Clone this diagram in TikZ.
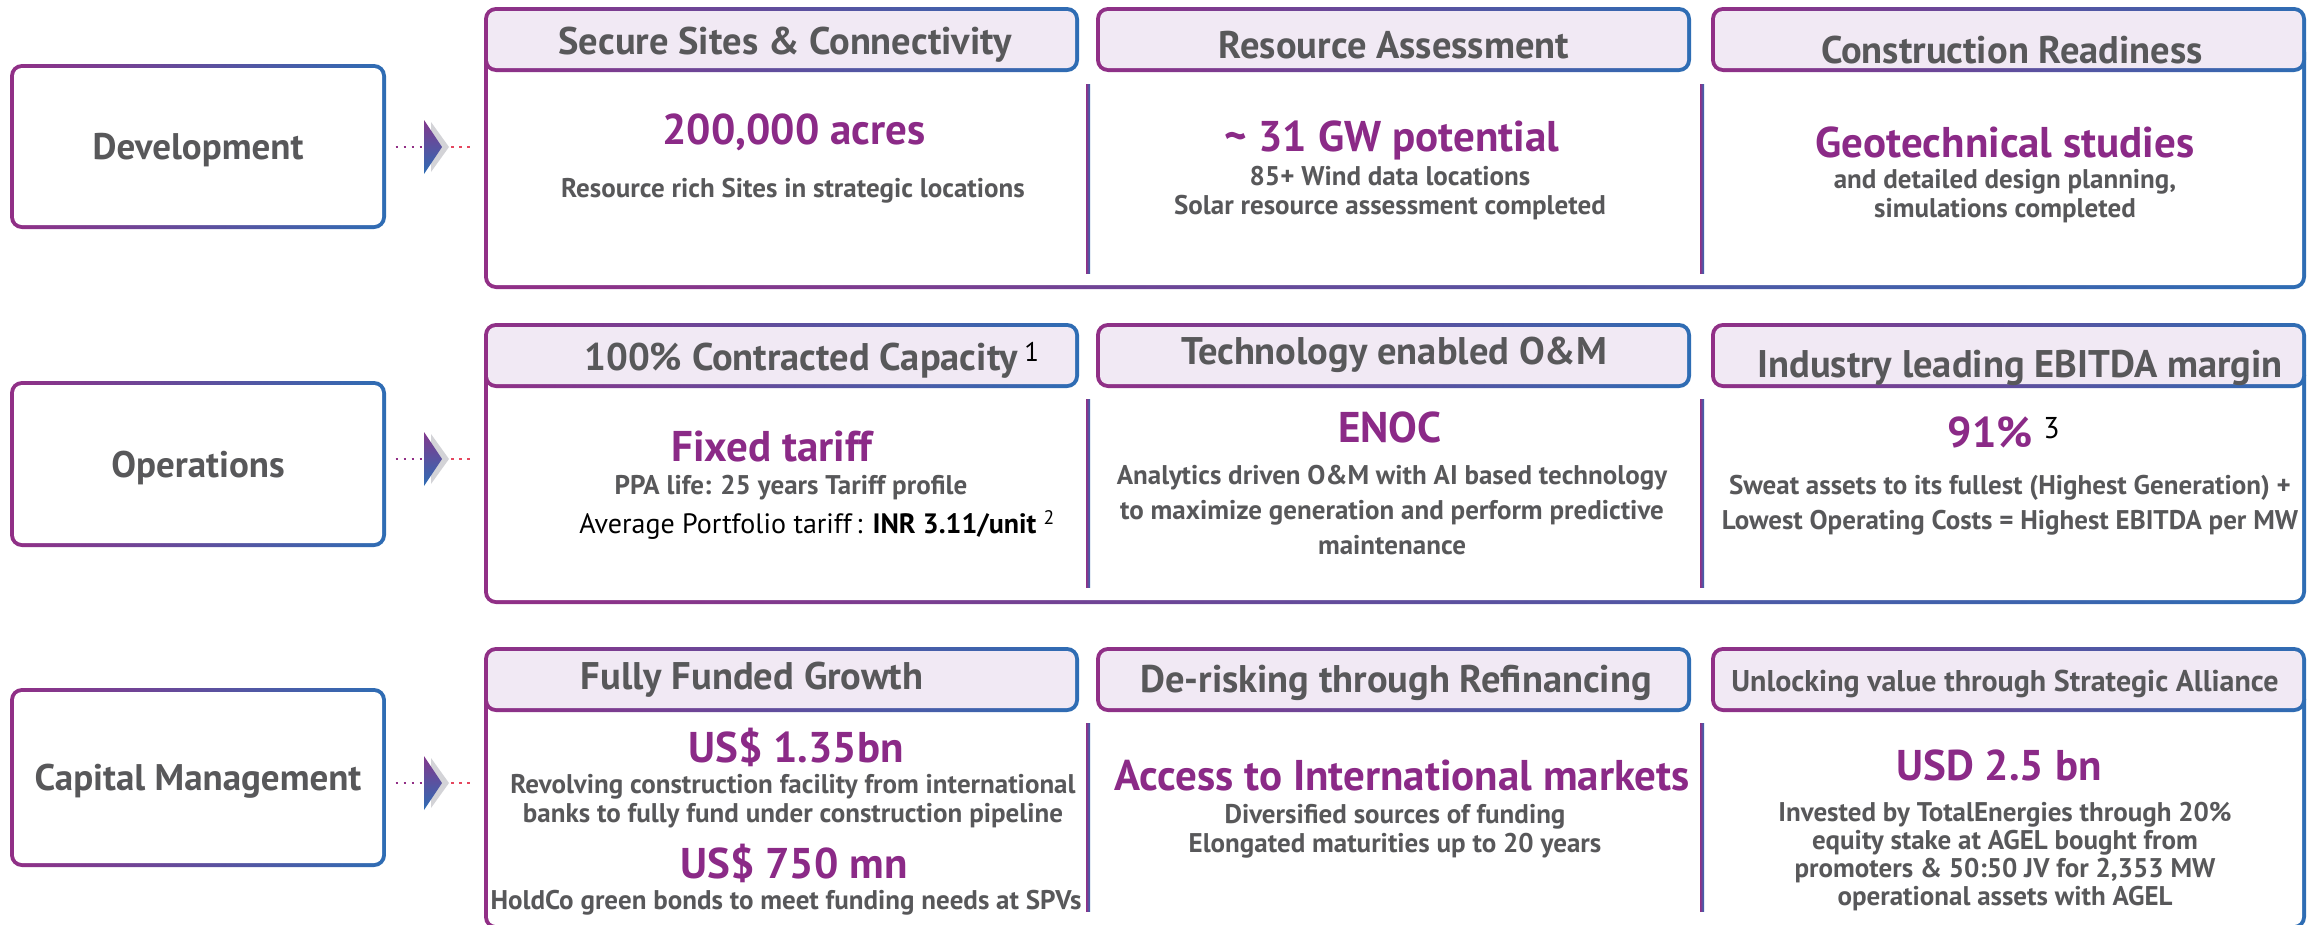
\documentclass[tikz,border=0pt]{standalone}
\usepackage{fontspec}
\setmainfont{PT Sans}
\usetikzlibrary{calc}
\definecolor{cpur}{HTML}{912F86}
\definecolor{cblu}{HTML}{2E6DB4}
\definecolor{tpur}{HTML}{8B2A87}
\definecolor{tgry}{HTML}{58585A}
\definecolor{hfill}{HTML}{F1E9F4}
\definecolor{dotred}{HTML}{E5475E}
\definecolor{shgrey}{HTML}{D3D3D7}
\newcommand\gbox[5]{%
  \shade[left color=cpur,right color=cblu,rounded corners=12pt] (#1,#2) rectangle (#3,#4);
  \fill[#5,rounded corners=8pt] (#1+4,#2+4) rectangle (#3-4,#4-4);}
\newcommand\contbox[2]{%
  \shade[left color=cpur,right color=cblu,rounded corners=12pt] (484,#1) rectangle (2306,#2);
  \fill[white,rounded corners=8pt] (488,#1-20) rectangle (2302,#2-4);}
\newcommand\divline[3]{%
  \shade[left color=cpur,right color=cblu] (#1-2,#2) rectangle (#1+2,#3);}
\newcommand\chev[1]{%
  \fill[shgrey] (431,#1-25) -- (449,#1) -- (431,#1+25) -- cycle;
  \shade[top color=cpur!85!cblu,bottom color=cblu] (424,#1-27) -- (442,#1) -- (424,#1+27) -- cycle;}
\newcommand\supb[1]{{\color{black}\mdseries\textsuperscript{#1}}}
\tikzset{
  hdr/.style={text=tgry,font=\fontsize{38.5}{42}\selectfont\bfseries,inner sep=0pt,yshift=-3pt},
  val/.style={text=tpur,font=\fontsize{43}{46}\selectfont\bfseries,inner sep=0pt},
  body/.style={text=tgry,font=\fontsize{27}{29}\selectfont\bfseries,align=center,inner sep=0pt,yshift=-3pt},
  lbl/.style={text=tgry,font=\fontsize{37}{40}\selectfont\bfseries,inner sep=0pt,minimum width=375pt,yshift=-4pt},
  cont/.style={inner sep=0pt,minimum width=1822pt},
  ldots/.style={cpur,line width=2.6pt,dash pattern=on 2.6pt off 5.4pt},
  rdots/.style={dotred,line width=2.6pt,dash pattern=on 2.6pt off 5.4pt},
}
\begin{document}
\begin{tikzpicture}[x=1pt,y=-1pt]
\useasboundingbox (0,0) rectangle (2318,924);
% ---------- left boxes
\gbox{10}{64}{386}{229}{white}
\gbox{10}{381}{386}{547}{white}
\gbox{10}{688}{386}{867}{white}
\node[lbl,minimum height=165pt] (dev) at (198,146.5) {Development};
\node[lbl,minimum height=166pt] (ops) at (198,464) {Operations};
\node[lbl,minimum height=179pt] (cap) at (198,777.5) {Capital Management};
% ---------- containers
\contbox{40}{289}
\contbox{363}{604}
\contbox{687}{929}
\node[cont,minimum height=282pt] (c1) at (1395,148) {};
\node[cont,minimum height=281pt] (c2) at (1395,463) {};
\node[cont,minimum height=280pt] (c3) at (1395,787) {};
% ---------- headers
\gbox{484}{7}{1079}{72}{hfill}
\gbox{1096}{7}{1691}{72}{hfill}
\gbox{1711}{7}{2306}{72}{hfill}
\gbox{484}{323}{1079}{388}{hfill}
\gbox{1096}{323}{1691}{388}{hfill}
\gbox{1711}{323}{2306}{388}{hfill}
\gbox{484}{647}{1079}{712}{hfill}
\gbox{1096}{647}{1691}{712}{hfill}
\gbox{1711}{647}{2306}{712}{hfill}
% ---------- dividers
\divline{1088}{84}{273}
\divline{1702}{84}{273}
\divline{1088}{399}{587}
\divline{1702}{399}{587}
\divline{1088}{723}{911}
\divline{1702}{723}{911}
% ---------- chevrons and dotted connectors
\chev{147}
\chev{459}
\chev{783}
\coordinate (ch1) at (424,147);
\coordinate (ch2) at (424,459);
\coordinate (ch3) at (424,783);
\draw[ldots] ([xshift=10pt]dev.east |- ch1) -- ([xshift=-2pt]ch1);
\draw[rdots] ([xshift=27pt]ch1) -- ([xshift=-14pt]c1.west |- ch1);
\draw[ldots] ([xshift=10pt]ops.east |- ch2) -- ([xshift=-2pt]ch2);
\draw[rdots] ([xshift=27pt]ch2) -- ([xshift=-14pt]c2.west |- ch2);
\draw[ldots] ([xshift=10pt]cap.east |- ch3) -- ([xshift=-2pt]ch3);
\draw[rdots] ([xshift=27pt]ch3) -- ([xshift=-14pt]c3.west |- ch3);
% ---------- row 1 texts
\node[hdr] (h11) at (785,42) {Secure Sites \& Connectivity};
\node[hdr] (h12) at (1394,42) {Resource Assessment};
\node[hdr] (h13) at (2012,47) {Construction Readiness};
\node[val] (v11) at (794,132) {200,000 acres};
\node[body] (b11) at (793,188) {Resource rich Sites in strategic locations};
\node[val] (v12) at (1392,140) {\textasciitilde{} 31 GW potential};
\node[body] (b12) at (1390,190.5) {85+ Wind data locations\\Solar resource assessment completed};
\node[val] (v13) at (2005,142) {Geotechnical studies};
\node[body] (b13) at (2005,193.5) {and detailed design planning,\\simulations completed};
% ---------- row 2 texts
\node[hdr] (h21) at (812,357) {100\% Contracted Capacity\,\supb{1}};
\node[hdr] (h22) at (1394,352) {Technology enabled O\&M};
\node[hdr] (h23) at (2020,365) {Industry leading EBITDA margin};
\node[val] (v21) at (772,447) {Fixed tariff};
\node[body] (b21) at (791,485) {PPA life: 25 years Tariff profile};
\node[body,text=black,font=\fontsize{28}{30}\selectfont] (b21b) at (817,522) {\mdseries Average Portfolio tariff\,: \bfseries INR 3.11/unit \supb{2}};
\node[val] (v22) at (1390,427) {ENOC};
\node[body,font=\fontsize{27}{35}\selectfont\bfseries] (b22) at (1392,507) {Analytics driven O\&M with AI based technology\\to maximize generation and perform predictive\\maintenance};
\node[val] (v23) at (2004,432) {91\% \supb{3}};
\node[body,font=\fontsize{27}{35}\selectfont\bfseries] (b23) at (2010,502.5) {Sweat assets to its fullest (Highest Generation) +\\Lowest Operating Costs = Highest EBITDA per MW};
% ---------- row 3 texts
\node[hdr] (h31) at (752,677) {Fully Funded Growth};
\node[hdr] (h32) at (1396,680) {De-risking through Refinancing};
\node[hdr,font=\fontsize{30}{32}\selectfont\bfseries] (h33) at (2005,681) {Unlocking value through Strategic Alliance};
\node[val] (v31) at (796,747) {US\$ 1.35bn};
\node[body] (b31) at (793,798.5) {Revolving construction facility from international\\banks to fully fund under construction pipeline};
\node[val] (v31b) at (794,863) {US\$ 750 mn};
\node[body] (b31b) at (786,900) {HoldCo green bonds to meet funding needs at SPVs};
\node[val] (v32) at (1402,776) {Access to International markets};
\node[body] (b32) at (1395,828.5) {Diversified sources of funding\\Elongated maturities up to 20 years};
\node[val] (v33) at (1999,765) {USD 2.5 bn};
\node[body,font=\fontsize{27}{28.3}\selectfont\bfseries] (b33) at (2005,853.5) {Invested by TotalEnergies through 20\%\\equity stake at AGEL bought from\\promoters \& 50:50 JV for 2,353 MW\\operational assets with AGEL};
\end{tikzpicture}
\end{document}
